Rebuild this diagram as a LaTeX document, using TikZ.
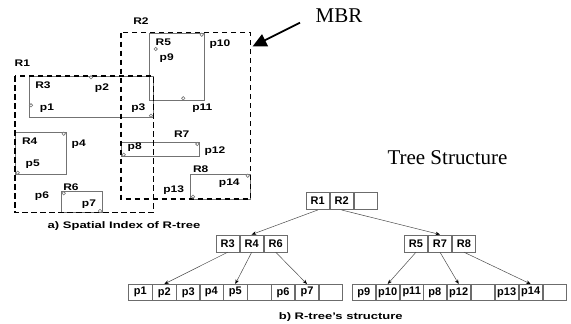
\documentclass[tikz,border=0pt]{standalone}
\usepackage{fontspec}
\setmainfont{Liberation Serif}
\newfontfamily\labfont{Liberation Sans}[FakeStretch=1.25]
\newfontfamily\capfont{Liberation Sans}[FakeStretch=1.37]
\newfontfamily\cellfont{Liberation Sans}
\usetikzlibrary{arrows.meta}
\tikzset{
  lab/.style={font=\labfont\bfseries\fontsize{9.6}{10}\selectfont, inner sep=0pt},
  caption/.style={font=\capfont\bfseries\fontsize{9.5}{10}\selectfont, inner sep=0pt},
  serifbig/.style={font=\fontsize{21}{22}\selectfont, inner sep=0pt},
  mbrbox/.style={draw=black, dash pattern=on 5.5pt off 3.5pt, line width=1.3pt},
  subbox/.style={draw=gray!90!black, line width=0.75pt},
  ptmark/.style={draw=gray!90!black, line width=0.6pt, fill=white},
  cell/.style={draw=gray!85!black, line width=0.7pt, minimum width=23.3pt,
    inner sep=0pt, anchor=north west,
    font=\cellfont\bfseries\fontsize{11}{11}\selectfont},
  upper/.style={cell, minimum height=17pt},
  leaf/.style={cell, minimum height=16pt},
  tarrow/.style={draw=gray!60!black, line width=0.5pt,
    -{Stealth[length=4.5pt,width=3.5pt,color=black]}},
  mbrarrow/.style={draw=black, line width=1.8pt,
    -{Triangle[length=14pt,width=13pt]}}
}
\begin{document}
\begin{tikzpicture}[x=1pt,y=-1pt]
\useasboundingbox (0,0) rectangle (571,324);

% ---------- spatial index ----------
\draw[subbox] (29,76) rectangle (153.3,117.3);     % R3
\draw[subbox] (149,33.3) rectangle (204,100);      % R5
\draw[subbox] (15,132.3) rectangle (66,174);       % R4
\draw[subbox] (61.3,191.7) rectangle (102.3,212.7);% R6
\draw[subbox] (121,142.7) rectangle (199.3,156);   % R7
\draw[subbox] (190.3,174) rectangle (250.7,199);   % R8
\draw[mbrbox] (121,32.7) rectangle (250.7,199);    % R2
\draw[mbrbox] (15,76) rectangle (153.3,212.7);     % R1

% points
\foreach \px/\py in {91/77.3, 31/105.3, 151/115.7, 155.7/49, 201.7/34.7,
  183.3/98.3, 63.7/133.7, 17.7/172.7, 63.7/193.3, 100/211, 123.7/154.7,
  197.3/144, 193/196.7, 247.7/175.7}
  \draw[ptmark] (\px,\py) circle[radius=1.7pt];

% labels
\node[lab] (lR2) at (141,20.7) {R2};
\node[lab] (lR1) at (22.3,63.3) {R1};
\node[lab] (lR3) at (43,85) {R3};
\node[lab] (lp2) at (102,88) {p2};
\node[lab] (lp1) at (47,108.3) {p1};
\node[lab] (lp3) at (138.3,108.3) {p3};
\node[lab] (lR5) at (163.3,42) {R5};
\node[lab] (lp9) at (166.7,58) {p9};
\node[lab] (lp10) at (220,44.3) {p10};
\node[lab] (lp11) at (202.3,108.3) {p11};
\node[lab] (lR4) at (29.7,140.7) {R4};
\node[lab] (lp4) at (78.7,144.3) {p4};
\node[lab] (lp5) at (32.7,164) {p5};
\node[lab] (lR7) at (181.7,133.7) {R7};
\node[lab] (lp8) at (134.7,147) {p8};
\node[lab] (lp12) at (215,151) {p12};
\node[lab] (lR8) at (200.7,169.3) {R8};
\node[lab] (lp14) at (229.3,183) {p14};
\node[lab] (lp13) at (173.7,189.7) {p13};
\node[lab] (lR6) at (71,186.7) {R6};
\node[lab] (lp6) at (42,196) {p6};
\node[lab] (lp7) at (89,204) {p7};

\node[caption] (capa) at (124,226.3) {a) Spatial Index of R-tree};

% MBR annotation
\node[serifbig] (mbr) at (339,15.5) {MBR};
\coordinate (mbrtail) at (300,22.7);
\coordinate (mbrtip) at (252.5,46.5);
\draw[mbrarrow] (mbrtail) -- (mbrtip);

\node[serifbig] (treetitle) at (447.5,158) {Tree Structure};

% ---------- tree ----------
% root
\node[upper] (cR1) at (305.7,192.3) {R1};
\node[upper] (cR2) at (cR1.north east) {R2};
\node[upper] (cRe) at (cR2.north east) {};
% middle level
\node[upper] (cR3) at (215.7,234.5) {R3};
\node[upper] (cR4) at (cR3.north east) {R4};
\node[upper] (cR6) at (cR4.north east) {R6};
\node[upper] (cR5) at (404,234.5) {R5};
\node[upper] (cR7) at (cR5.north east) {R7};
\node[upper] (cR8) at (cR7.north east) {R8};
% leaves
\node[leaf] (cp1) at (128.3,284) {p1};
\node[leaf] (cp2) at (cp1.north east) {p2};
\node[leaf] (cp3) at (cp2.north east) {p3};
\node[leaf] (cp4) at (199.3,284) {p4};
\node[leaf] (cp5) at (cp4.north east) {p5};
\node[leaf] (cl2e) at (cp5.north east) {};
\node[leaf] (cp6) at (271,284) {p6};
\node[leaf] (cp7) at (cp6.north east) {p7};
\node[leaf] (cl3e) at (cp7.north east) {};
\node[leaf] (cp9) at (351.7,284) {p9};
\node[leaf] (cp10) at (cp9.north east) {p10};
\node[leaf] (cp11) at (cp10.north east) {p11};
\node[leaf] (cp8) at (422.7,284) {p8};
\node[leaf] (cp12) at (cp8.north east) {p12};
\node[leaf] (cl5e) at (cp12.north east) {};
\node[leaf] (cp13) at (494.7,284) {p13};
\node[leaf] (cp14) at (cp13.north east) {p14};
\node[leaf] (cl6e) at (cp14.north east) {};

% connectors
\draw[tarrow] (cR1.south) -- (cR4.north);
\draw[tarrow] (cR2.south) -- (cR7.north);
\draw[tarrow] (cR3.south) -- (cp2.north);
\draw[tarrow] (cR4.south) -- (cp5.north);
\draw[tarrow] (cR6.south) -- (cp7.north);
\draw[tarrow] (cR5.south) -- (cp10.north);
\draw[tarrow] (cR7.south) -- (cp12.north);
\draw[tarrow] (cR8.south) -- (cp14.north);

\node[caption] (capb) at (340.8,317.3) {b) R-tree’s structure};
\end{tikzpicture}
\end{document}
